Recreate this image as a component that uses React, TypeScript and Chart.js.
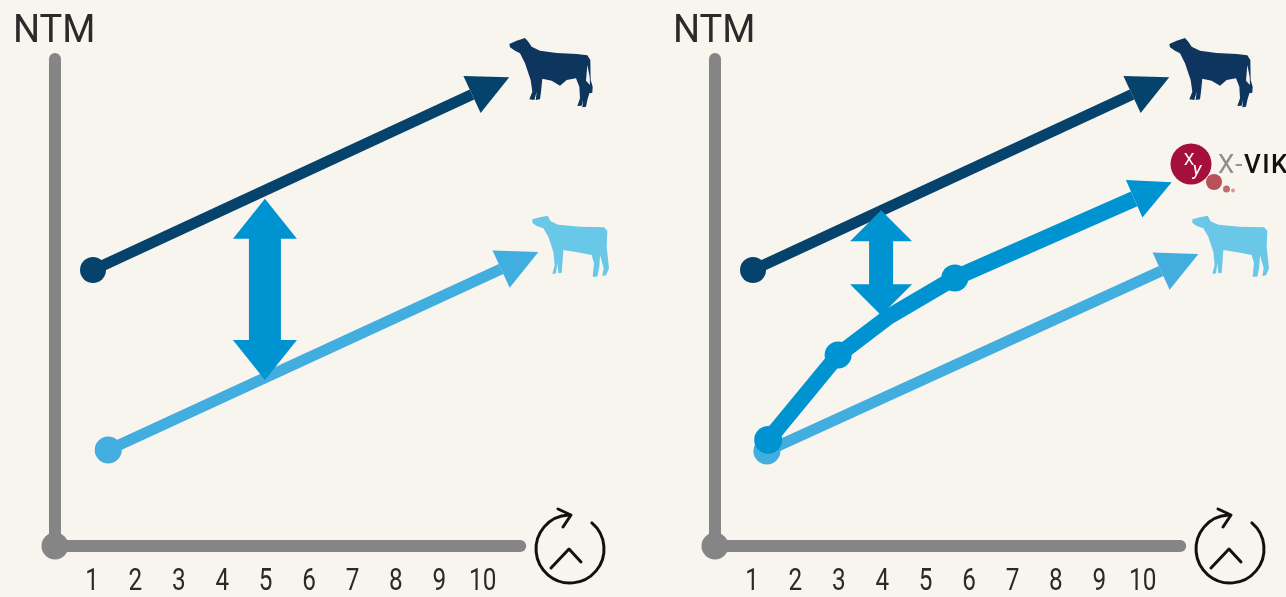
import React, { useEffect, useRef } from "react";
import { Chart, registerables } from "chart.js";

Chart.register(...registerables);

const BG = "#f8f5ee";
const DARK = "#06436c";
const LIGHT = "#42addf";
const BLUE = "#0093d1";
const GRAY = "#858585";

const xTicks = [1, 2, 3, 4, 5, 6, 7, 8, 9, 10];
const yAxisTitle = "NTM";

// axis frame, in axis units
const axisFrameX = [0.124, 10.84];
const axisFrameY = [0, 99.2];

// left panel
const leftEliteX = [1, 9.73];
const leftEliteY = [56.2, 91.96];
const leftBaseX = [1.35, 10.4];
const leftBaseY = [19.55, 56.4];
const leftGapX = [4.96, 4.96];
const leftGapY = [70.7, 33.8];

// right panel
const rightEliteX = [1, 9.73];
const rightEliteY = [56.2, 91.96];
const rightBaseX = [1.32, 10.4];
const rightBaseY = [19.35, 56];
const rightXvikX = [1.35, 2.96, 4.11, 5.65, 9.78];
const rightXvikY = [21.6, 38.9, 46.6, 54.6, 70.7];
const rightGapX = [3.95, 3.95];
const rightGapY = [68.4, 47];

const logoGray = "X-";
const logoBlack = "VIK";

// silhouettes, traced in a local coordinate frame
const darkCow = [
  88, 72, 110, 62, 135, 54, 145, 65, 155, 80, 180, 92, 230, 99, 290, 102, 322, 106, 331, 120, 332, 180, 338, 200, 337,
  218, 328, 220, 322, 240, 318, 260, 307, 262, 309, 240, 305, 257, 292, 258, 300, 235, 298, 200, 288, 175, 260, 180,
  240, 197, 215, 182, 187, 176, 183, 215, 180, 238, 167, 240, 170, 215, 163, 240, 148, 238, 157, 215, 152, 180, 135,
  130, 120, 100, 105, 92, 90, 82,
];
const darkCowTail = [322, 135, 329, 170, 330, 195, 318, 182];
const lightCow = [
  157, 598, 180, 592, 203, 587, 212, 604, 235, 614, 300, 620, 372, 622, 382, 632, 380, 680, 387, 745, 378, 766, 367,
  768, 371, 745, 360, 705, 358, 740, 352, 770, 338, 770, 342, 730, 335, 705, 300, 698, 250, 690, 248, 720, 245, 758,
  235, 760, 232, 730, 228, 760, 217, 762, 224, 735, 220, 695, 205, 650, 190, 625, 170, 618, 157, 608,
];

const pts = (xs: number[], ys: number[]) => xs.map((x, i) => ({ x, y: ys[i] }));

function polygon(ctx: CanvasRenderingContext2D, p: number[], fill: string) {
  ctx.beginPath();
  for (let i = 0; i < p.length; i += 2) {
    const x = 480 + p[i] / 3;
    const y = 20 + p[i + 1] / 3;
    if (i === 0) ctx.moveTo(x, y);
    else ctx.lineTo(x, y);
  }
  ctx.closePath();
  ctx.fillStyle = fill;
  ctx.fill();
}

function drawCycle(ctx: CanvasRenderingContext2D) {
  const cx = 570;
  const cy = 549;
  ctx.save();
  ctx.strokeStyle = "#111111";
  ctx.lineWidth = 3;
  ctx.lineCap = "round";
  ctx.lineJoin = "round";
  ctx.beginPath();
  ctx.arc(cx, cy, 34, (-50 * Math.PI) / 180, (268 * Math.PI) / 180);
  ctx.stroke();
  ctx.beginPath();
  ctx.moveTo(558, 509);
  ctx.lineTo(571, 515);
  ctx.lineTo(563, 527);
  ctx.stroke();
  ctx.beginPath();
  ctx.moveTo(551, 568);
  ctx.lineTo(569, 549);
  ctx.lineTo(581, 562);
  ctx.stroke();
  ctx.restore();
}

function drawLogo(ctx: CanvasRenderingContext2D) {
  ctx.save();
  const c = (x: number, y: number, r: number, fill: string) => {
    ctx.beginPath();
    ctx.arc(x, y, r, 0, Math.PI * 2);
    ctx.fillStyle = fill;
    ctx.fill();
  };
  c(531, 164, 20.5, "#a50f3c");
  c(554, 182, 8, "#b85259");
  c(566.5, 189, 3.5, "#c26a6e");
  c(573, 190.5, 2, "#d59a9a");
  ctx.fillStyle = "#ffffff";
  ctx.textAlign = "center";
  ctx.textBaseline = "middle";
  ctx.font = "400 17px Roboto, sans-serif";
  ctx.fillText("X", 529, 161);
  ctx.font = "italic 400 19px Roboto, sans-serif";
  ctx.fillText("y", 537, 170);
  (ctx as any).letterSpacing = "1.5px";
  ctx.textAlign = "left";
  ctx.textBaseline = "alphabetic";
  ctx.font = "400 26px Roboto, sans-serif";
  ctx.fillStyle = "#8d8d8d";
  ctx.fillText(logoGray, 558, 173);
  const w = ctx.measureText(logoGray).width;
  ctx.font = "500 26px Roboto, sans-serif";
  ctx.fillStyle = "#111111";
  ctx.fillText(logoBlack, 558 + w, 173);
  ctx.restore();
}

const arrowPlugin = {
  id: "arrows",
  afterDatasetsDraw(chart: any) {
    const ctx: CanvasRenderingContext2D = chart.ctx;
    ctx.save();
    const order = chart.data.datasets.map((_: any, i: number) => i).reverse();
    for (const i of order) {
      const ds = chart.data.datasets[i];
      const pointsEl = chart.getDatasetMeta(i).data;
      if (ds.arrowHead) {
        const a = pointsEl[pointsEl.length - 2];
        const b = pointsEl[pointsEl.length - 1];
        const ang = Math.atan2(b.y - a.y, b.x - a.x);
        const L = ds.arrowHead;
        ctx.save();
        ctx.translate(b.x, b.y);
        ctx.rotate(ang);
        ctx.beginPath();
        ctx.moveTo(L, 0);
        ctx.lineTo(0, -L / 2);
        ctx.lineTo(0, L / 2);
        ctx.closePath();
        ctx.fillStyle = ds.borderColor;
        ctx.fill();
        ctx.restore();
      }
      if (ds.gapArrow) {
        const { headW, headH, shaftW } = ds.gapArrow;
        const [t, u] = pointsEl;
        ctx.beginPath();
        ctx.moveTo(t.x, t.y);
        ctx.lineTo(t.x + headW / 2, t.y + headH);
        ctx.lineTo(t.x + shaftW / 2, t.y + headH);
        ctx.lineTo(t.x + shaftW / 2, u.y - headH);
        ctx.lineTo(t.x + headW / 2, u.y - headH);
        ctx.lineTo(u.x, u.y);
        ctx.lineTo(t.x - headW / 2, u.y - headH);
        ctx.lineTo(t.x - shaftW / 2, u.y - headH);
        ctx.lineTo(t.x - shaftW / 2, t.y + headH);
        ctx.lineTo(t.x - headW / 2, t.y + headH);
        ctx.closePath();
        ctx.fillStyle = BLUE;
        ctx.fill();
      }
    }
    ctx.restore();
    polygon(ctx, darkCow, "#0e355e");
    polygon(ctx, darkCowTail, BG);
    polygon(ctx, lightCow, "#69c7e7");
    drawCycle(ctx);
    if (chart.options.plugins.arrows?.logo) drawLogo(ctx);

    // axis tick labels, narrowed to the reference's condensed face
    const sx = chart.scales.x;
    ctx.save();
    ctx.fillStyle = "#2a2a2a";
    ctx.font = "400 32px Roboto, sans-serif";
    ctx.textAlign = "center";
    ctx.textBaseline = "alphabetic";
    for (const t of sx.ticks) {
      ctx.save();
      ctx.translate(sx.getPixelForValue(t.value) - 1, 590);
      ctx.scale(0.76, 1);
      ctx.fillText(String(t.value), 0, 0);
      ctx.restore();
    }
    ctx.restore();
  },
};

function frameDatasets() {
  return [
    {
      data: pts([axisFrameX[0], axisFrameX[1]], [axisFrameY[0], axisFrameY[0]]),
      borderColor: GRAY,
      borderWidth: 12,
      borderCapStyle: "round",
      pointRadius: [13.5, 0],
      pointBackgroundColor: GRAY,
      pointBorderWidth: 0,
      clip: false,
    },
    {
      data: pts([axisFrameX[0], axisFrameX[0]], [axisFrameY[0], axisFrameY[1]]),
      borderColor: GRAY,
      borderWidth: 12,
      borderCapStyle: "round",
      pointRadius: 0,
      clip: false,
    },
  ];
}

function lineDs(xs: number[], ys: number[], color: string, width: number, radii: number[]) {
  return {
    data: pts(xs, ys),
    borderColor: color,
    backgroundColor: color,
    borderWidth: width,
    pointRadius: radii,
    pointBackgroundColor: color,
    pointBorderWidth: 0,
    arrowHead: 41,
    tension: 0,
    clip: false,
  };
}

function gapDs(xs: number[], ys: number[], headW: number, headH: number, shaftW: number) {
  return {
    data: pts(xs, ys),
    showLine: false,
    pointRadius: 0,
    borderColor: BLUE,
    gapArrow: { headW, headH, shaftW },
    clip: false,
  };
}

function makeChart(canvas: HTMLCanvasElement, datasets: any[], logo: boolean) {
  return new Chart(canvas, {
    type: "line",
    data: { datasets },
    plugins: [arrowPlugin],
    options: {
      animation: false,
      responsive: false,
      devicePixelRatio: 1,
      layout: { autoPadding: false, padding: { left: 13, top: 12, right: 0, bottom: 0 } },
      plugins: {
        legend: { display: false },
        tooltip: { enabled: false },
        arrows: { logo },
        title: {
          display: true,
          text: yAxisTitle,
          align: "start",
          color: "#2a2a2a",
          font: { family: "Roboto, sans-serif", size: 38, weight: 400, lineHeight: 1.1 },
          padding: { top: 0, bottom: 1.2 },
        },
      },
      scales: {
        x: {
          type: "linear",
          min: -0.843,
          max: 14.06,
          border: { display: false },
          grid: { display: false },
          afterBuildTicks: (s: any) => {
            s.ticks = xTicks.map((value) => ({ value }));
          },
          afterFit: (s: any) => {
            s.height = 51;
          },
          ticks: {
            display: false,
            autoSkip: false,
            maxRotation: 0,
          },
        },
        y: { type: "linear", min: 0, max: 100, display: false },
      },
    } as any,
  } as any);
}

export default function App() {
  const leftRef = useRef<HTMLCanvasElement>(null);
  const rightRef = useRef<HTMLCanvasElement>(null);

  useEffect(() => {
    document.documentElement.style.overflow = "hidden";
    document.body.style.margin = "0";
    document.body.style.background = BG;
    const left = makeChart(
      leftRef.current!,
      [
        gapDs(leftGapX, leftGapY, 64, 40, 32),
        lineDs(leftEliteX, leftEliteY, DARK, 11, [13, 0]),
        lineDs(leftBaseX, leftBaseY, LIGHT, 11, [13.5, 0]),
        ...frameDatasets(),
      ],
      false,
    );
    const right = makeChart(
      rightRef.current!,
      [
        gapDs(rightGapX, rightGapY, 62, 31, 24),
        lineDs(rightXvikX, rightXvikY, BLUE, 16, [14, 13.5, 0, 13.5, 0]),
        lineDs(rightEliteX, rightEliteY, DARK, 11, [13, 0]),
        lineDs(rightBaseX, rightBaseY, LIGHT, 11, [13.5, 0]),
        ...frameDatasets(),
      ],
      true,
    );
    return () => {
      left.destroy();
      right.destroy();
    };
  }, []);

  return (
    <div style={{ position: "relative", width: 1286, height: 597, overflow: "hidden", background: BG }}>
      <canvas ref={leftRef} width={660} height={597} style={{ position: "absolute", left: 0, top: 0 }} />
      <canvas ref={rightRef} width={660} height={597} style={{ position: "absolute", left: 660, top: 0 }} />
    </div>
  );
}
